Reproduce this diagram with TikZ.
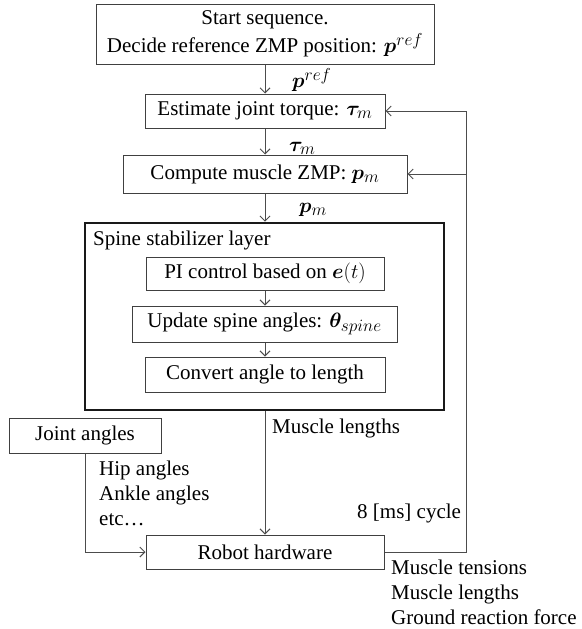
\documentclass[tikz,border=0pt]{standalone}
\usepackage{fontspec}
\setmainfont{Liberation Serif}
\usepackage{bm}
\DeclareMathSizes{21}{21}{16}{12}
\usetikzlibrary{arrows.meta}
\begin{document}
\begin{tikzpicture}[x=1pt,y=-1pt,
  font=\fontsize{21}{28}\selectfont,
  box/.style={draw=black!75, line width=1pt, inner sep=0pt, align=center, text=black},
  layer/.style={draw=black!90, line width=2.6pt, inner sep=0pt},
  flow/.style={draw=black!70, line width=1pt, -{Straight Barb[length=5pt,width=10pt,line width=1pt]}},
  link/.style={draw=black!70, line width=1pt},
  lbl/.style={anchor=west, inner sep=0pt, align=left, text=black},
  lbllist/.style={lbl, font=\fontsize{21}{25}\selectfont},
]
\useasboundingbox (0,0) rectangle (581,629);

% main processing chain
\node[box, minimum width=338pt, minimum height=60pt] (start) at (265,34)
  {Start sequence.\\Decide reference ZMP position: $\bm{p}^{ref}$};
\node[box, minimum width=240pt, minimum height=34pt] (est) at (265,111)
  {Estimate joint torque: $\bm{\tau}_m$};
\node[box, minimum width=284pt, minimum height=38pt] (cmp) at (265,174)
  {Compute muscle ZMP: $\bm{p}_m$};

% spine stabilizer layer
\node[layer, minimum width=359pt, minimum height=187pt] (spine) at (264.5,316.5) {};
\node[lbl] (spinelbl) at (93,240) {Spine stabilizer layer};
\node[box, minimum width=238pt, minimum height=33pt] (pi) at (265,273.5)
  {PI control based on $\bm{e}(t)$};
\node[box, minimum width=265pt, minimum height=36pt] (upd) at (264.5,324)
  {Update spine angles: $\bm{\theta}_{spine}$};
\node[box, minimum width=240pt, minimum height=35pt] (conv) at (265,374.5)
  {Convert angle to length};

% hardware side
\node[box, minimum width=152pt, minimum height=35pt] (joint) at (85,435.5) {Joint angles};
\node[box, minimum width=238pt, minimum height=34pt] (robot) at (265,552) {Robot hardware};

% connectors along the chain
\draw[flow] (start.south -| est.north) -- (est.north);
\draw[flow] (est.south) -- (cmp.north);
\draw[flow] (cmp.south) -- (cmp.south |- spine.north);
\draw[flow] (pi.south) -- (upd.north -| pi.south);
\draw[flow] (upd.south -| conv.north) -- (conv.north);
\draw[flow] (spine.south -| robot.north) -- (robot.north);
\draw[flow] (joint.south) |- (robot.west);

% feedback loop
\coordinate (fbtop) at (466,111);
\coordinate (fbbot) at (466,552);
\draw[link] (robot.east) -- (fbbot) -- (fbtop);
\draw[flow] (fbtop) -- (est.east);
\draw[flow] (fbbot |- cmp.east) -- (cmp.east);

% signal labels
\node[lbl] (lref) at (292,80) {$\bm{p}^{ref}$};
\node[lbl] (ltau) at (289,148) {$\bm{\tau}_m$};
\node[lbl] (lpm) at (299,210) {$\bm{p}_m$};
\node[lbl] (lmus) at (272,428) {Muscle lengths};
\node[lbllist] (ljoint) at (99,493) {Hip angles\\Ankle angles\\etc…};
\node[lbl] (lcyc) at (357,513) {8 [ms] cycle};
\node[lbllist] (lsens) at (391,592) {Muscle tensions\\Muscle lengths\\Ground reaction force};
\end{tikzpicture}
\end{document}
